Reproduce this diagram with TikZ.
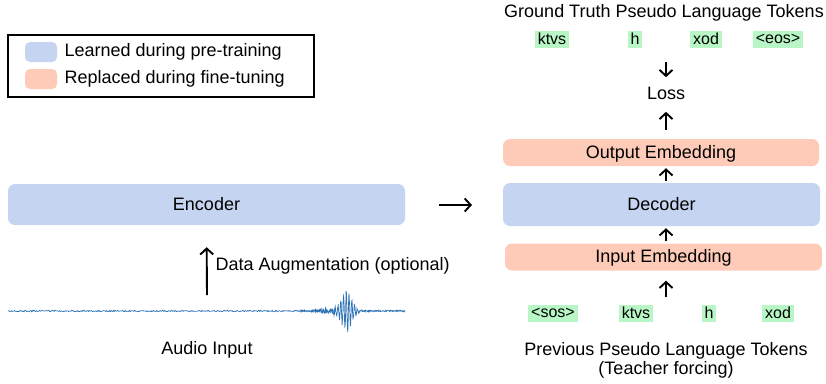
\documentclass[tikz,border=0pt]{standalone}
\usepackage{fontspec}
\setmainfont{Liberation Sans}
\usepackage{tikz}
\usepackage{xcolor}
\usetikzlibrary{arrows.meta}

\definecolor{learned}{HTML}{C5D5F1}
\definecolor{replaced}{HTML}{FDCBB8}
\definecolor{token}{HTML}{B9F6C5}
\definecolor{wave}{HTML}{2E74B5}

\tikzset{
  block/.style={rounded corners=7pt,inner sep=0pt,font=\fontsize{18}{21}\selectfont},
  tok/.style={fill=token,inner xsep=3pt,inner ysep=1pt,minimum height=17pt,font=\fontsize{16}{18}\selectfont},
  lbl/.style={font=\fontsize{18}{21}\selectfont},
  flow/.style={-{Straight Barb[length=6pt,width=13pt]},black,line width=1.9pt},
}

\begin{document}
\begin{tikzpicture}[x=1pt,y=-1pt]
      \useasboundingbox (0,0) rectangle (826,383);
      % legend
      \draw [black,line width=2pt] (8,35) rectangle (314,97);
      \fill [learned,rounded corners=5pt] (25,42) rectangle (57,62);
      \fill [replaced,rounded corners=5pt] (25,69) rectangle (57,89);
      \node [lbl,anchor=west] (leglearn) at (61,52) {Learned during pre-training};
      \node [lbl,anchor=west] (legrepl) at (61,79) {Replaced during fine-tuning};
      % encoder side
      \node [block,fill=learned,minimum width=397pt,minimum height=41pt] (enc) at (206.5,204.5) {Encoder};
      \pgfmathsetseed{7}
      \draw [wave,line width=0.7pt] plot[domain=8:300,samples=400]
        (\x,{311+0.7*rand});
      \draw [wave,line width=0.7pt] plot[domain=300:405,samples=320]
        (\x,{311+(0.7+2.8*exp(-((\x-338)/18)^2))*rand+19*exp(-((\x-347)/7)^2)*sin((\x-347)*130)});
      \coordinate (audio) at (207,295);
      \node [lbl] (audiolbl) at (207,350) {Audio Input};
      \draw [flow,shorten >=22pt] (audio) -- (enc.south);
      \node [lbl,anchor=west] (aug) at (212,266) {Data Augmentation (optional)};
      % decoder side
      \node [block,fill=learned,minimum width=317pt,minimum height=43pt] (dec) at (661.5,204.5) {Decoder};
      \node [block,fill=replaced,minimum width=316pt,minimum height=27pt,text depth=2pt] (outemb) at (661,152.5) {Output Embedding};
      \node [block,fill=replaced,minimum width=317pt,minimum height=27pt,text depth=2pt] (inemb) at (663.5,257) {Input Embedding};
      \node [lbl] (loss) at (666,93) {Loss};
      \node [lbl] (gttitle) at (664,13) {Ground Truth Pseudo Language Tokens};
      \node [tok] (gt1) at (552,39) {ktvs};
      \node [tok] (gt2) at (635,39) {h};
      \node [tok] (gt3) at (706,39) {xod};
      \node [tok] (gt4) at (778,39) {<eos>};
      \node [tok] (pv1) at (553,313) {<sos>};
      \node [tok] (pv2) at (636,313) {ktvs};
      \node [tok] (pv3) at (709,313) {h};
      \node [tok] (pv4) at (778,313) {xod};
      \node [lbl,align=center] (pvtitle) at (666,360) {Previous Pseudo Language Tokens\\[-2pt](Teacher forcing)};
      \coordinate (encout) at (439,205);
      \coordinate (decin) at (472,205);
      \draw [flow] (encout) -- (decin);
      \coordinate (gtbot) at (666,62);
      \coordinate (pvtop) at (666,297);
      \draw [flow,shorten >=6pt] (gtbot) -- (loss.north);
      \draw [flow,shorten <=9pt,shorten >=9pt] (outemb.north -| loss) -- (loss.south);
      \draw [flow,shorten <=2pt,shorten >=2pt] (dec.north -| loss) -- (outemb.south -| loss);
      \draw [flow,shorten <=2pt,shorten >=2pt] (inemb.north -| loss) -- (dec.south -| loss);
      \draw [flow,shorten >=10pt] (pvtop) -- (inemb.south -| loss);
    \end{tikzpicture}
\end{document}
